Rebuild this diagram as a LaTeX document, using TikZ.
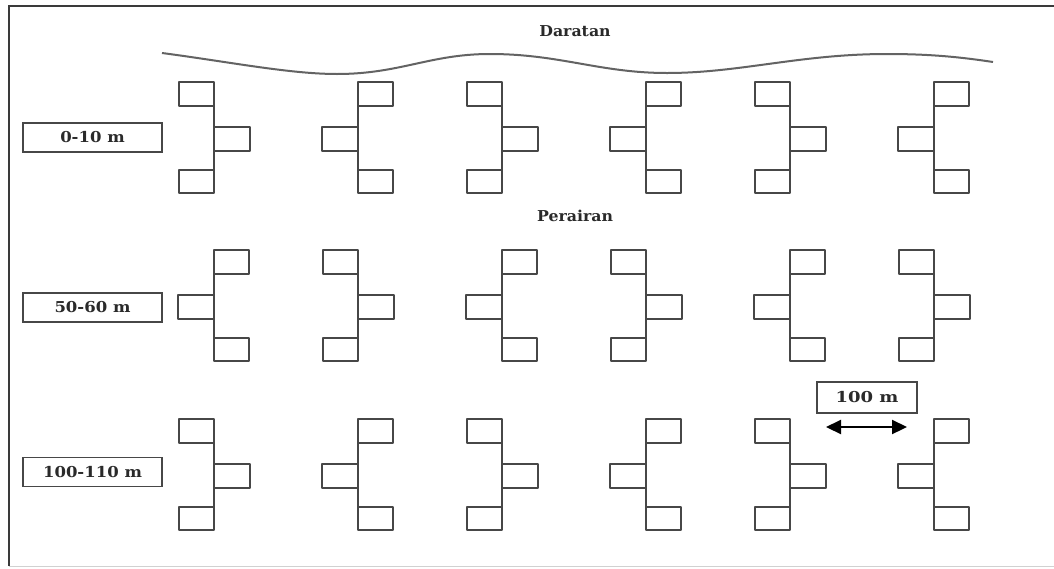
\documentclass[tikz,border=0pt]{standalone}
\usepackage{fontspec}
\setmainfont{DejaVu Serif}
\usetikzlibrary{arrows.meta}
\definecolor{ink}{HTML}{474747}
\definecolor{txt}{HTML}{2A2A2A}
\definecolor{rim}{HTML}{3A3A3A}
\tikzset{
  unit/.style={draw=ink, line width=2.1pt, line join=round},
  lbl/.style={draw=ink, line width=1.8pt, text=txt, inner sep=0pt,
    font=\fontsize{15}{18}\selectfont\bfseries},
  title/.style={text=txt, inner sep=0pt, font=\fontsize{15}{18}\selectfont\bfseries},
  % one jetty: vertical spine with three boxes; #1 = 1 puts the outer boxes left
  pics/jetty/.style={code={
    \draw[unit] (0,-57) -- (0,54);
    \draw[unit] (0,-57) rectangle ({-35*(#1)},-33);
    \draw[unit] (0,-12) rectangle ({36*(#1)},12);
    \draw[unit] (0,31) rectangle ({-35*(#1)},54);
  }},
}
\begin{document}
\begin{tikzpicture}[x=1pt,y=-1pt]
\useasboundingbox (0,0) rectangle (1054,568);
\fill[white] (0,0) rectangle (1054,568);

% frame
\draw[rim, line width=2.2pt] (9,566) -- (9,6) -- (1054,6);
\draw[black!18, line width=1pt] (9,566) -- (1054,566);

% shoreline
\draw[ink!85, line width=2pt]
  (162,53) .. controls (230,62) and (290,74) .. (337,74)
  .. controls (400,74) and (430,54) .. (490,54)
  .. controls (560,54) and (600,73) .. (667,73)
  .. controls (740,73) and (800,54) .. (887,54)
  .. controls (930,54) and (960,57) .. (993,62);

\node[title] (land) at (575,31) {\scalebox{1.05}[1]{Daratan}};
\node[title] (sea) at (575,216) {\scalebox{1.05}[1]{Perairan}};

% three rows of jetties
\foreach \s/\d in {214/1,358/-1,502/1,646/-1,790/1,934/-1}{
  \pic at (\s,139) {jetty=\d};
  \pic at (\s,307) {jetty={-\d}};
  \pic at (\s,476) {jetty=\d};
}

% depth labels
\node[lbl, minimum width=139pt, minimum height=29pt] (d1) at (92.5,137.5) {\scalebox{1.1}[1]{0-10 m}};
\node[lbl, minimum width=139pt, minimum height=29pt] (d2) at (92.5,307.5) {\scalebox{1.1}[1]{50-60 m}};
\node[lbl, minimum width=139pt, minimum height=29pt] (d3) at (92.5,472) {\scalebox{1.1}[1]{100-110 m}};

% spacing marker
\node[lbl, minimum width=100pt, minimum height=31pt] (gap) at (867,397.5) {\scalebox{1.2}[1]{100 m}};
\coordinate (gapL) at (826,427);
\coordinate (gapR) at (907,427);
\draw[{Triangle[length=15pt,width=14pt]}-{Triangle[length=15pt,width=14pt]}, line width=2.2pt, black]
  (gapL) -- (gapR);
\end{tikzpicture}
\end{document}
